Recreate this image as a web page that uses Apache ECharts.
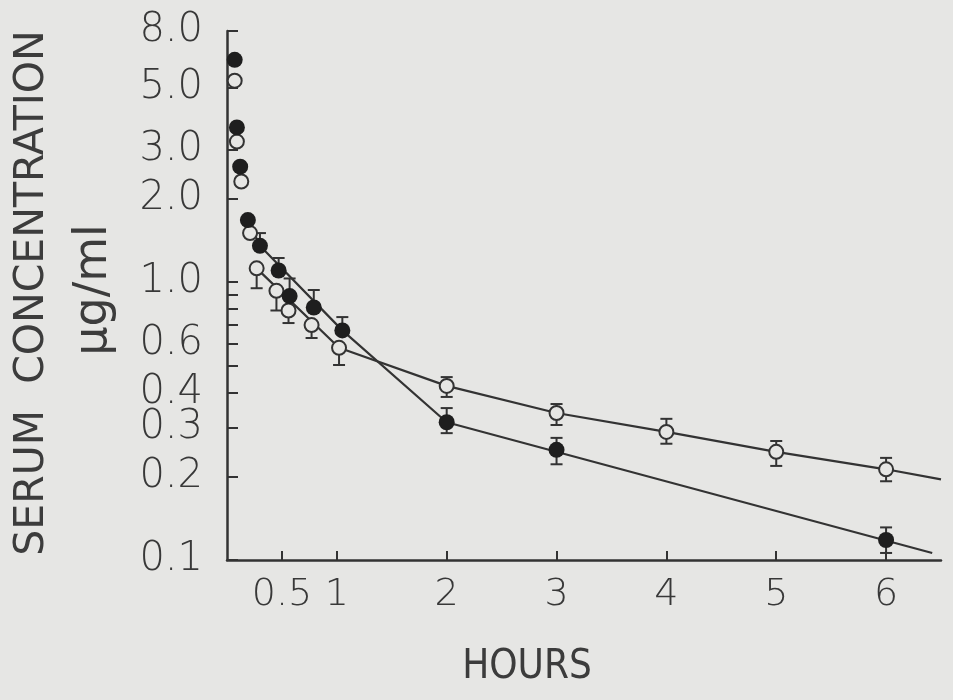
<!DOCTYPE html>
<html>
<head>
<meta charset="utf-8">
<script src="https://cdn.jsdelivr.net/npm/echarts@6/dist/echarts.min.js"></script>
<style>
html,body{margin:0;padding:0;background:#e6e6e4;}
#c{width:953px;height:700px;}
</style>
</head>
<body>
<div id="c"></div>
<script>
// ---- data (hours, µg/ml) ----
const xTickValues = [0.5, 1, 2, 3, 4, 5, 6];
const yTickLabels = [0.1, 0.2, 0.3, 0.4, 0.6, 1.0, 2.0, 3.0, 5.0, 8.0];
const yExtraTicks = [0.5, 0.7, 0.8, 0.9];

// closed circles: [hours, mean]
const filledPoints = [[0.07,6.3],[0.09,3.6],[0.12,2.6],[0.19,1.67],[0.30,1.35],[0.47,1.10],[0.57,0.89],[0.79,0.81],[1.05,0.67],[2,0.313],[3,0.249],[6,0.118]];
// closed circles error bars: [hours, low, high]
const filledErrors = [[0.30,1.35,1.50],[0.47,1.10,1.22],[0.57,0.89,1.03],[0.79,0.81,0.936],[1.05,0.67,0.748],[2,0.286,0.352],[3,0.221,0.275],[6,0.106,0.131]];
// closed circles fitted line
const filledFit = [[0.19,1.67],[0.30,1.35],[1.05,0.67],[2,0.313],[6.42,0.106]];

// open circles: [hours, mean]
const openPoints = [[0.07,5.3],[0.09,3.2],[0.13,2.3],[0.21,1.5],[0.27,1.12],[0.45,0.93],[0.56,0.79],[0.77,0.70],[1.02,0.58],[2,0.423],[3,0.338],[4,0.289],[5,0.245],[6,0.212]];
const openErrors = [[0.27,0.95,1.12],[0.45,0.79,0.93],[0.56,0.712,0.79],[0.77,0.629,0.70],[1.02,0.503,0.58],[2,0.386,0.455],[3,0.306,0.364],[4,0.262,0.322],[5,0.218,0.268],[6,0.192,0.233]];
const openFit = [[0.27,1.12],[1.02,0.58],[2,0.423],[3,0.338],[4,0.289],[5,0.245],[6,0.212],[6.5,0.195]];

const INK = '#333333';
const BG = '#e6e6e4';
const labelFont = "'DejaVu Sans', sans-serif";

function errorBarRender(params, api) {
  const x = api.value(0), lo = api.value(1), hi = api.value(2);
  const p1 = api.coord([x, lo]);
  const p2 = api.coord([x, hi]);
  const w = 6;
  const st = {stroke: INK, lineWidth: 2};
  return {type: 'group', children: [
    {type: 'line', shape: {x1: p1[0], y1: p1[1], x2: p2[0], y2: p2[1]}, style: st},
    {type: 'line', shape: {x1: p1[0]-w, y1: p1[1], x2: p1[0]+w, y2: p1[1]}, style: st},
    {type: 'line', shape: {x1: p2[0]-w, y1: p2[1], x2: p2[0]+w, y2: p2[1]}, style: st}
  ]};
}

const chart = echarts.init(document.getElementById('c'), null, {renderer: 'canvas'});
chart.setOption({
  backgroundColor: BG,
  animation: false,
  grid: {left: 227, right: 12, top: 31, bottom: 140, outerBoundsMode: 'none', containLabel: false},
  xAxis: {
    type: 'value', min: 0, max: 6.5,
    axisLine: {show: true, lineStyle: {color: INK, width: 2.5}},
    axisTick: {show: true, inside: true, length: 9, lineStyle: {color: INK, width: 2}, customValues: xTickValues},
    axisLabel: {show: true, margin: 16, fontSize: 38, fontFamily: labelFont, fontWeight: 200, color: '#383838',
      customValues: xTickValues,
      formatter: v => (v === 0.5 ? '0.5' : String(v))},
    splitLine: {show: false}
  },
  yAxis: {
    type: 'log', logBase: 10, min: 0.1, max: 8,
    axisLine: {show: true, lineStyle: {color: INK, width: 2.5}},
    axisTick: {show: true, inside: true, length: 11, lineStyle: {color: INK, width: 2}, customValues: yTickLabels.concat(yExtraTicks)},
    axisLabel: {show: true, margin: 24, fontSize: 40, fontFamily: labelFont, fontWeight: 200, color: '#383838',
      customValues: yTickLabels,
      formatter: v => Number(v).toFixed(1)},
    splitLine: {show: false},
    minorTick: {show: false}
  },
  graphic: [
    {type: 'text', x: 32, y: 293, rotation: Math.PI/2,
     style: {text: 'SERUM  CONCENTRATION', fontSize: 41, fontFamily: labelFont, fill: '#3c3c3c', align: 'center', verticalAlign: 'middle'}},
    {type: 'text', x: 94, y: 290, rotation: Math.PI/2,
     style: {text: 'μg/ml', fontSize: 46, fontFamily: labelFont, fill: '#3c3c3c', align: 'center', verticalAlign: 'middle'}},
    {type: 'text', x: 527, y: 668,
     style: {text: 'HOURS', fontSize: 40, fontFamily: "'Liberation Sans Narrow', 'DejaVu Sans Condensed', sans-serif", fill: '#3c3c3c', align: 'center', verticalAlign: 'middle'}}
  ],
  series: [
    {type: 'custom', name: 'filledErr', data: filledErrors, renderItem: errorBarRender, encode: {x: 0, y: [1, 2]}, z: 1, silent: true},
    {type: 'custom', name: 'openErr', data: openErrors, renderItem: errorBarRender, encode: {x: 0, y: [1, 2]}, z: 1, silent: true},
    {type: 'line', name: 'filledFit', data: filledFit, symbol: 'none', lineStyle: {color: INK, width: 2.2}, z: 2, silent: true},
    {type: 'line', name: 'openFit', data: openFit, symbol: 'none', lineStyle: {color: INK, width: 2.2}, z: 2, silent: true},
    {type: 'scatter', name: 'open', data: openPoints, symbol: 'circle', symbolSize: 14,
     itemStyle: {color: BG, borderColor: INK, borderWidth: 2, opacity: 1}, z: 3},
    {type: 'scatter', name: 'filled', data: filledPoints, symbol: 'circle', symbolSize: 16,
     itemStyle: {color: '#1e1e1e', borderColor: '#1e1e1e', borderWidth: 0, opacity: 1}, z: 4}
  ]
});
</script>
</body>
</html>
